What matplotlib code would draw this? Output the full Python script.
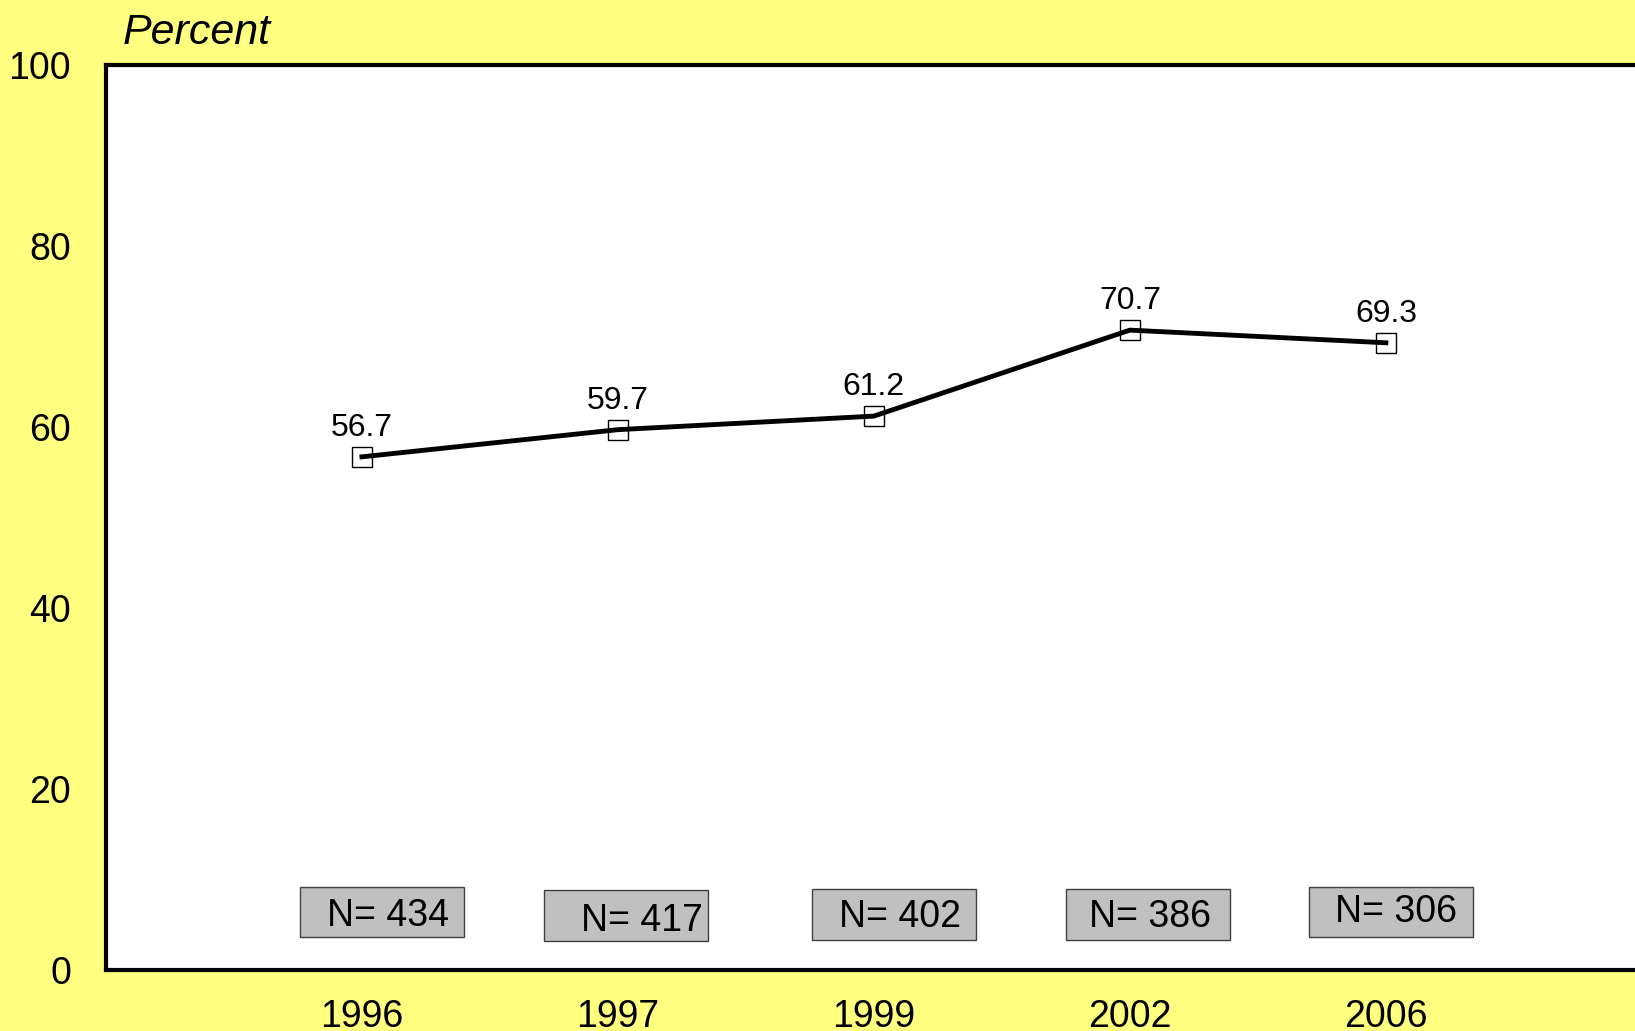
import matplotlib
matplotlib.use("Agg")
import matplotlib.pyplot as plt
from matplotlib.patches import Rectangle

# dados
anos = ["1996", "1997", "1999", "2002", "2006"]
percentual = [56.7, 59.7, 61.2, 70.7, 69.3]
amostras = [434, 417, 402, 386, 306]

# pequenos deslocamentos das caixas N= (como no original)
caixa_dx = [0.08, 0.03, 0.08, 0.07, 0.02]
caixa_dy = [0.0, -0.4, -0.3, -0.3, 0.0]
texto_dx = [0.02, 0.065, 0.02, 0.01, 0.02]
texto_dy = [-0.45, -0.55, -0.3, -0.3, 0.0]

plt.rcParams["font.family"] = ["Liberation Sans", "DejaVu Sans"]

fig = plt.figure(figsize=(16.35, 10.31), dpi=100)
fig.patch.set_facecolor("#FFFF80")
ax = fig.add_axes([0.0648, 0.0592, 0.9394, 0.8778])
ax.set_facecolor("white")

x = list(range(1, len(anos) + 1))
ax.plot(x, percentual, color="black", linewidth=3.5, marker="s", markersize=14,
        markerfacecolor="none", markeredgecolor="black", markeredgewidth=1.0, zorder=3)

for xi, v in zip(x, percentual):
    ax.annotate(f"{v:.1f}", (xi, v), xytext=(0, 10), textcoords="offset points",
                ha="center", va="bottom", fontsize=23)

# caixas com o tamanho da amostra
for xi, n, dx, dy, tdx, tdy in zip(x, amostras, caixa_dx, caixa_dy, texto_dx, texto_dy):
    cx = xi + dx
    ax.add_patch(Rectangle((cx - 0.32, 3.6 + dy), 0.64, 5.6, facecolor="#C0C0C0",
                           edgecolor="#404040", linewidth=1.0, zorder=4))
    ax.text(cx + tdx, 6.4 + dy + tdy, f"N= {n}", ha="center", va="center",
            fontsize=27, zorder=5)

ax.set_xlim(0, 6)
ax.set_ylim(0, 100)
ax.set_xticks(x)
ax.set_xticklabels(anos)
ax.set_yticks([0, 20, 40, 60, 80, 100])
ax.tick_params(axis="both", length=0, labelsize=27)
ax.tick_params(axis="y", pad=25)
ax.tick_params(axis="x", pad=21)

for lado in ["left", "top", "bottom", "right"]:
    ax.spines[lado].set_linewidth(3)
    ax.spines[lado].set_color("black")

fig.text(123 / 1635, 1 - 44 / 1031, "Percent", fontsize=31, style="italic",
         ha="left", va="baseline")

fig.savefig("out.png", dpi=100, facecolor=fig.get_facecolor())
